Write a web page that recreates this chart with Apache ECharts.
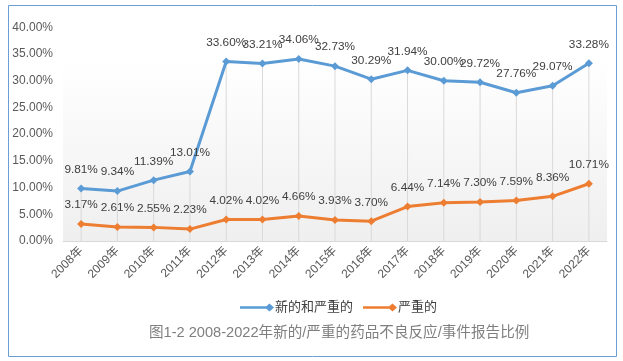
<!DOCTYPE html>
<html>
<head>
<meta charset="utf-8">
<script src="https://cdn.jsdelivr.net/npm/echarts@6/dist/echarts.min.js"></script>
<style>html,body{margin:0;padding:0;background:#fff;}#c{width:623px;height:361px;}</style>
</head>
<body>
<div id="c"></div>
<script>
var categories = ['2008年','2009年','2010年','2011年','2012年','2013年','2014年','2015年','2016年','2017年','2018年','2019年','2020年','2021年','2022年'];
var newAndSerious = [9.81,9.34,11.39,13.01,33.60,33.21,34.06,32.73,30.29,31.94,30.00,29.72,27.76,29.07,33.28];
var serious = [3.17,2.61,2.55,2.23,4.02,4.02,4.66,3.93,3.70,6.44,7.14,7.30,7.59,8.36,10.71];
var yTicks = [0,5,10,15,20,25,30,35,40];
var seriesNames = ['新的和严重的','严重的'];
var titleText = '图1-2 2008-2022年新的/严重的药品不良反应/事件报告比例';

var font = '"Liberation Sans","Noto Sans CJK SC",sans-serif';
var legendIcon = 'path://M0,3L26,3L26,5L0,5Z M26,0.5L30,4L26,7.5L22,4Z';
var chart = echarts.init(document.getElementById('c'));
function lbl(p){ return p.value.toFixed(2) + '%'; }
chart.setOption({
  animation: false,
  textStyle: {fontFamily: font},
  graphic: [{type:'rect', shape:{x:8.5,y:5.5,width:608,height:351}, style:{fill:'none', stroke:'#6a9fd4', lineWidth:1}, z:-1}],
  title: {text: titleText, top: 321, left: 144,
    textStyle: {fontSize: 14.6, fontWeight: 'normal', color: '#7f7f7f', fontFamily: font}},
  legend: {left: 235, top: 296, itemGap: 10, itemWidth: 34, itemHeight: 9, icon: legendIcon,
    data: seriesNames, textStyle: {fontSize: 13, color: '#404040', padding:[0,0,0,-4]}},
  grid: {left: 63, right: 16, top: 27.3, bottom: 120, show: true, borderWidth: 0,
    backgroundColor: new echarts.graphic.LinearGradient(0,0,0,1,[{offset:0,color:'#ffffff'},{offset:0.15,color:'#ffffff'},{offset:1,color:'#efefef'}])},
  xAxis: {type: 'category', data: categories, boundaryGap: true,
    axisLine: {lineStyle: {color: '#d9d9d9', width: 1}},
    axisTick: {show: false},
    splitLine: {show: false},
    axisLabel: {rotate: 45, fontSize: 12, color: '#595959', margin: 8, interval: 0}},
  yAxis: {type: 'value', min: yTicks[0], max: yTicks[yTicks.length-1], interval: 5,
    axisLine: {show: false}, axisTick: {show: false}, splitLine: {show: false},
    axisLabel: {fontSize: 12, color: '#595959', margin: 10, formatter: function(v){ return v.toFixed(2) + '%'; }}},
  series: [
    {type: 'bar', name: 'drop', data: newAndSerious, barWidth: 1, silent: true, z: 1,
      itemStyle: {color: '#d9d9d9'}, legendHoverLink: false, tooltip: {show:false}},
    {type: 'line', name: seriesNames[0], data: newAndSerious, z: 3,
      symbol: 'diamond', symbolSize: 8, itemStyle: {color: '#5b9bd5'}, lineStyle: {color: '#5b9bd5', width: 3},
      label: {show: true, position: 'top', distance: 9, formatter: lbl, fontSize: 11.8, color: '#404040'}},
    {type: 'line', name: seriesNames[1], data: serious, z: 3,
      symbol: 'diamond', symbolSize: 8, itemStyle: {color: '#ed7d31'}, lineStyle: {color: '#ed7d31', width: 3},
      label: {show: true, position: 'top', distance: 9, formatter: lbl, fontSize: 11.8, color: '#404040'}}
  ]
});
</script>
</body>
</html>
